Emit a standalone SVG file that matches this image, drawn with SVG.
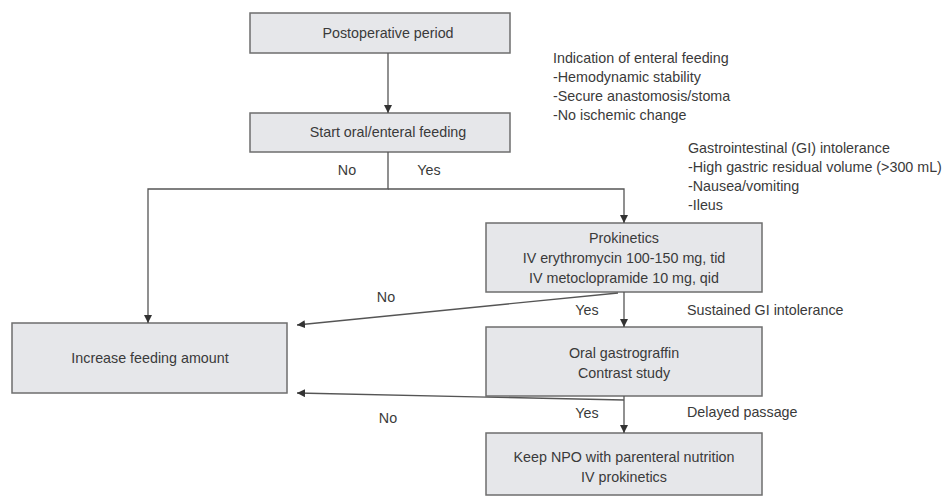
<svg xmlns="http://www.w3.org/2000/svg" width="942" height="499" viewBox="0 0 942 499">
<defs>
<marker id="ah" viewBox="0 0 10 10" refX="10" refY="5" markerWidth="8" markerHeight="8" orient="auto" markerUnits="userSpaceOnUse">
<path d="M0,0 L10,5 L0,10 z" fill="#333"/>
</marker>
<style>
.box{fill:#e6e7ea;stroke:#6e6e6e;stroke-width:1.5}
.t{font-family:"Liberation Sans",Arial,sans-serif;font-size:14.3px;fill:#3a3a3a}
.c{text-anchor:middle}
.ln{fill:none;stroke:#555;stroke-width:1.3}
</style>
</defs>
<rect width="942" height="499" fill="#fff"/>
<g id="n1"><rect class="box" x="250" y="13" width="260" height="40"/><text class="t c" x="388" y="38">Postoperative period</text></g>
<g id="n2"><rect class="box" x="250" y="113" width="260" height="39"/><text class="t c" x="388" y="137">Start oral/enteral feeding</text></g>
<g id="n3"><rect class="box" x="12" y="323" width="275" height="70"/><text class="t c" x="150" y="363">Increase feeding amount</text></g>
<g id="n4"><rect class="box" x="486" y="223" width="276" height="69"/><text class="t c" x="624" y="243">Prokinetics</text><text class="t c" x="624" y="263">IV erythromycin 100-150 mg, tid</text><text class="t c" x="624" y="283">IV metoclopramide 10 mg, qid</text></g>
<g id="n5"><rect class="box" x="486" y="327" width="276" height="69"/><text class="t c" x="624" y="358">Oral gastrograffin</text><text class="t c" x="624" y="378">Contrast study</text></g>
<g id="n6"><rect class="box" x="486" y="433" width="276" height="62"/><text class="t c" x="624" y="462">Keep NPO with parenteral nutrition</text><text class="t c" x="624" y="482">IV prokinetics</text></g>
<g id="notes">
<text class="t" x="553" y="63">Indication of enteral feeding</text>
<text class="t" x="553" y="82">-Hemodynamic stability</text>
<text class="t" x="553" y="101">-Secure anastomosis/stoma</text>
<text class="t" x="553" y="120">-No ischemic change</text>
<text class="t" x="688" y="153">Gastrointestinal (GI) intolerance</text>
<text class="t" x="688" y="172">-High gastric residual volume (&gt;300 mL)</text>
<text class="t" x="688" y="191">-Nausea/vomiting</text>
<text class="t" x="688" y="210">-Ileus</text>
<text class="t" x="687" y="315">Sustained GI intolerance</text>
<text class="t" x="687" y="417">Delayed passage</text>
</g>
<g id="connectors">
<line class="ln" x1="388" y1="53" x2="388" y2="113" marker-end="url(#ah)"/>
<polyline class="ln" points="388,152 388,189 148,189 148,323" marker-end="url(#ah)"/>
<polyline class="ln" points="388,189 624,189 624,223" marker-end="url(#ah)"/>
<line class="ln" x1="618" y1="293" x2="297" y2="325" marker-end="url(#ah)"/>
<line class="ln" x1="624" y1="292" x2="624" y2="327" marker-end="url(#ah)"/>
<line class="ln" x1="624" y1="400" x2="297" y2="393" marker-end="url(#ah)"/>
<line class="ln" x1="624" y1="396" x2="624" y2="433" marker-end="url(#ah)"/>
<text class="t c" x="347" y="175">No</text>
<text class="t c" x="429" y="175">Yes</text>
<text class="t c" x="386" y="302">No</text>
<text class="t c" x="587" y="315">Yes</text>
<text class="t c" x="587" y="418">Yes</text>
<text class="t c" x="388" y="423">No</text>
</g>
</svg>
